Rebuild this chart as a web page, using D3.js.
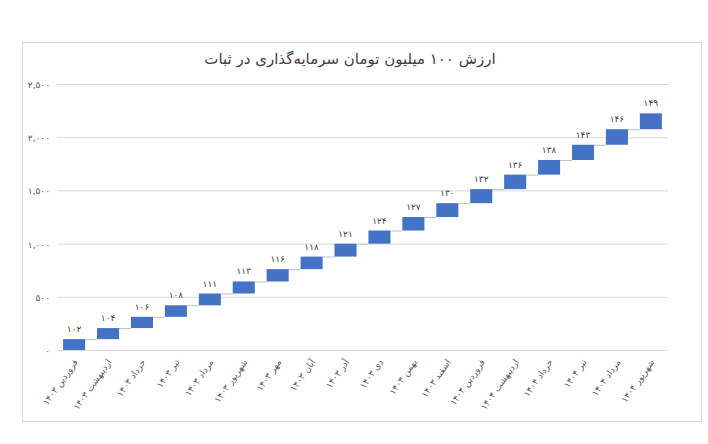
<!DOCTYPE html>
<html><head><meta charset="utf-8">
<script src="https://cdn.jsdelivr.net/npm/d3@7"></script>
<style>body{margin:0;background:#fff}text{font-family:"DejaVu Sans",sans-serif}</style>
</head><body><svg id="c" width="708" height="444"></svg>
<script>
const months = ['فروردین','اردیبهشت','خرداد','تیر','مرداد','شهریور','مهر','آبان','آذر','دی','بهمن','اسفند',
  'فروردین','اردیبهشت','خرداد','تیر','مرداد','شهریور'];
const years = [1403,1403,1403,1403,1403,1403,1403,1403,1403,1403,1403,1403,1404,1404,1404,1404,1404,1404];
const values = [102,104,106,108,111,113,116,118,121,124,127,130,132,136,138,143,146,149];
const yTicks = [0,500,1000,1500,2000,2500];

const fa = s => String(s).replace(/\d/g, d => '۰۱۲۳۴۵۶۷۸۹'[d]);
const svg = d3.select('#c');
svg.append('rect').attr('x',22.5).attr('y',42.5).attr('width',679).attr('height',379)
  .attr('fill','#fff').attr('stroke','#d9d9d9');
svg.append('text').attr('x',350).attr('y',64).attr('text-anchor','middle')
  .attr('font-size',15).attr('fill','#404040').text('ارزش ۱۰۰ میلیون تومان سرمایه‌گذاری در ثبات');

let acc = 0;
const data = values.map((v,i) => { const d = {i, v, y0: acc, y1: acc + v}; acc += v; return d; });

const x = d3.scaleBand().domain(d3.range(values.length)).range([57,668]).paddingInner(0.35).paddingOuter(0.18);
const y = d3.scaleLinear().domain([0,2500]).range([350,84]);

svg.append('g').selectAll('line').data(yTicks).join('line')
  .attr('x1',57).attr('x2',668).attr('y1',d=>y(d)+0.5).attr('y2',d=>y(d)+0.5)
  .attr('stroke','#d9d9d9');
svg.append('g').selectAll('text').data(yTicks).join('text')
  .attr('x',50).attr('y',d=>y(d)+4).attr('text-anchor','end').attr('font-size',9).attr('fill','#595959')
  .text(d=>fa(d3.format(',')(d)));

// connectors
svg.append('g').selectAll('line').data(data.slice(0,-1)).join('line')
  .attr('x1',d=>x(d.i)+x.bandwidth()).attr('x2',d=>x(d.i+1))
  .attr('y1',d=>y(d.y1)+0.5).attr('y2',d=>y(d.y1)+0.5).attr('stroke','#bfbfbf');

svg.append('g').selectAll('rect').data(data).join('rect')
  .attr('x',d=>x(d.i)).attr('width',x.bandwidth())
  .attr('y',d=>y(d.y1)).attr('height',d=>y(d.y0)-y(d.y1)).attr('fill','#4472c4');

svg.append('g').selectAll('text').data(data).join('text')
  .attr('x',d=>x(d.i)+x.bandwidth()/2).attr('y',d=>y(d.y1)-7).attr('text-anchor','middle')
  .attr('font-size',9).attr('fill','#404040').text(d=>fa(d.v));

svg.append('g').selectAll('text').data(data).join('text')
  .attr('transform',d=>`translate(${x(d.i)+x.bandwidth()/2+4},${362}) rotate(-55)`)
  .attr('text-anchor','end').attr('font-size',9).attr('fill','#595959')
  .text(d=>months[d.i]+' '+fa(years[d.i]));
</script></body></html>
